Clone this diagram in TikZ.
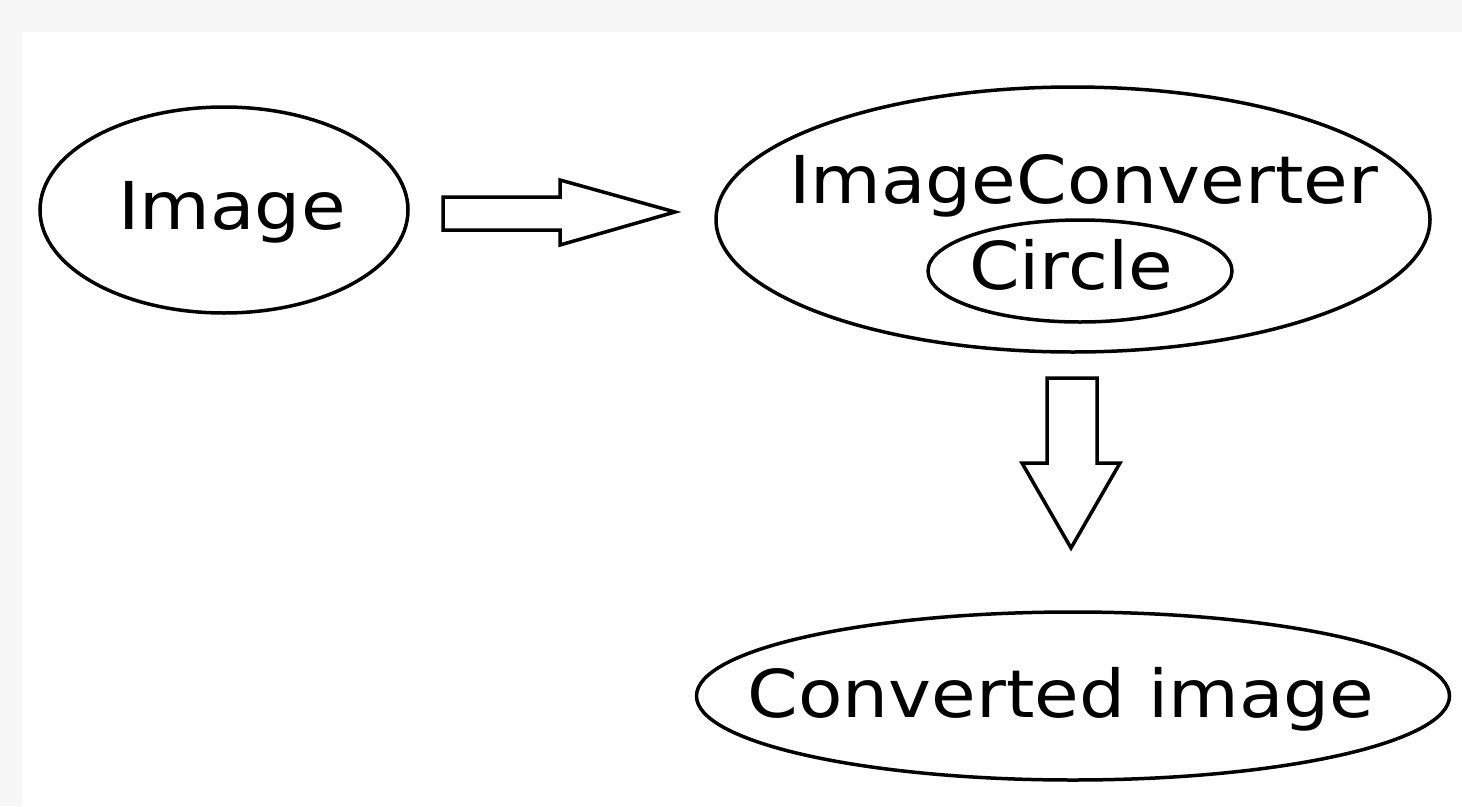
\documentclass[tikz,border=0pt]{standalone}
\usepackage{fontspec}
\setmainfont{DejaVu Sans}
\usetikzlibrary{shapes.geometric}
\newcommand{\widetxt}[1]{\scalebox{1.1}[1]{#1}}
\begin{document}
\begin{tikzpicture}[x=1pt,y=-1pt,
  oval/.style={draw=black,line width=3.5pt,ellipse,inner sep=0pt},
  lbl/.style={font=\fontsize{66}{72}\selectfont,text=black,inner sep=0pt,anchor=base},
  blockarrow/.style={draw=black,line width=3.5pt,fill=white,line join=miter}]
\fill[black!3] (0,0) rectangle (1462,806);
\fill[white] (22,32) rectangle (1462,806);
\useasboundingbox (0,0) rectangle (1462,806);
% ellipses
\node[oval,minimum width=368pt,minimum height=206pt] (img) at (224,210) {};
\node[lbl] (imgt) at (232,229) {\widetxt{Image}};
\node[oval,minimum width=714pt,minimum height=265pt] (conv) at (1073,219.5) {};
\node[lbl] (convt) at (1083.5,203) {\widetxt{ImageConverter}};
\node[oval,minimum width=304pt,minimum height=102pt] (circ) at (1080,271) {};
\node[lbl] (circt) at (1071,289) {\widetxt{Circle}};
\node[oval,minimum width=753pt,minimum height=168pt] (out) at (1073,696) {};
\node[lbl] (outt) at (1061,717) {\widetxt{Converted image}};
% block arrow right
\coordinate (rb) at (675,212);
\draw[blockarrow] (443,197) -- (560,197) -- (560,180) -- (rb) -- (560,245) -- (560,230) -- (443,230) -- cycle;
% block arrow down
\coordinate (db) at (1071,548);
\draw[blockarrow] (1047,378) -- (1097,378) -- (1097,463) -- (1120,463) -- (db) -- (1022,463) -- (1047,463) -- cycle;
\end{tikzpicture}
\end{document}
